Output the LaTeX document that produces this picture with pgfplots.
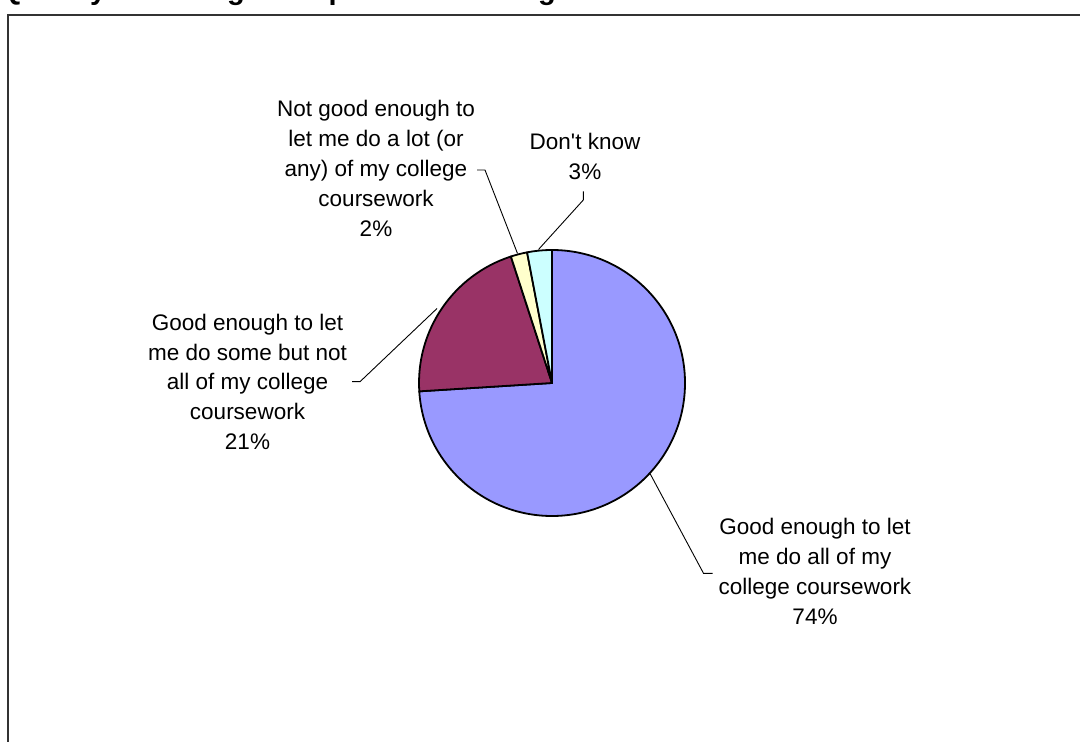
\documentclass[border=0pt]{standalone}
\usepackage{fontspec}
\setmainfont{Liberation Sans}
\usepackage{pgfplots}
\usepackage{pgfplotstable}
\pgfplotsset{compat=1.18}
\definecolor{pieblue}{HTML}{9999FF}
\definecolor{piemaroon}{HTML}{993366}
\definecolor{pieyellow}{HTML}{FFFFCC}
\definecolor{piecyan}{HTML}{CCFFFF}
\pgfplotstableread{
share label
74 all
21 some
2 notenough
3 dontknow
}\piedata
\begin{document}%
\begin{tikzpicture}
\pgfplotstablegetelem{0}{share}\of\piedata \pgfmathsetmacro\sA{\pgfplotsretval}
\pgfplotstablegetelem{1}{share}\of\piedata \pgfmathsetmacro\sB{\pgfplotsretval}
\pgfplotstablegetelem{2}{share}\of\piedata \pgfmathsetmacro\sC{\pgfplotsretval}
\pgfplotstablegetelem{3}{share}\of\piedata \pgfmathsetmacro\sD{\pgfplotsretval}
\pgfmathsetmacro\aA{90-3.6*\sA}
\pgfmathsetmacro\aB{\aA-3.6*\sB}
\pgfmathsetmacro\aC{\aB-3.6*\sC}
\pgfmathsetmacro\aD{\aC-3.6*\sD}
\begin{axis}[name=ax, scale only axis, width=540pt, height=371pt,
  xmin=0, xmax=1080, ymin=0, ymax=742, y dir=reverse,
  hide axis, clip=false]
% border of chart area (cropped)
\draw[line width=1pt, black!80] (axis cs:8,800) -- (axis cs:8,15) -- (axis cs:1100,15);
% title (cropped at top, only descenders visible)
\node[anchor=base west, inner sep=0pt, font=\bfseries\fontsize{14.5}{17}\selectfont] at (axis cs:0,-0.3) {Q1. Is your college computer fast enough?};
% pie slices
\filldraw[fill=pieblue, draw=black, line width=0.9pt, line join=round] (axis cs:552,383) -- ++(90:66.5pt) arc[start angle=90, end angle=\aA, radius=66.5pt] -- cycle;
\filldraw[fill=piemaroon, draw=black, line width=0.9pt, line join=round] (axis cs:552,383) -- ++(\aA:66.5pt) arc[start angle=\aA, end angle=\aB, radius=66.5pt] -- cycle;
\filldraw[fill=pieyellow, draw=black, line width=0.9pt, line join=round] (axis cs:552,383) -- ++(\aB:66.5pt) arc[start angle=\aB, end angle=\aC, radius=66.5pt] -- cycle;
\filldraw[fill=piecyan, draw=black, line width=0.9pt, line join=round] (axis cs:552,383) -- ++(\aC:66.5pt) arc[start angle=\aC, end angle=\aD, radius=66.5pt] -- cycle;
% leader lines
\draw[line width=0.45pt] (axis cs:477,170) -- (axis cs:485,170) -- (axis cs:517.5,253.5);
\draw[line width=0.45pt] (axis cs:583.3,191.5) -- (axis cs:583.3,200) -- (axis cs:538.5,249.5);
\draw[line width=0.45pt] (axis cs:352,381.7) -- (axis cs:360,381.7) -- (axis cs:437,308.5);
\draw[line width=0.45pt] (axis cs:650,473.5) -- (axis cs:703.5,573.3) -- (axis cs:712.7,573.3);
% labels
\tikzset{lbl/.style={anchor=base, inner sep=0pt, font=\fontsize{11.25}{15}\selectfont}}
\node[lbl] at (axis cs:376,116.5) {Not good enough to};
\node[lbl] at (axis cs:376,146.5) {let me do a lot (or};
\node[lbl] at (axis cs:376,176.5) {any) of my college};
\node[lbl] at (axis cs:376,206.5) {coursework};
\node[lbl] at (axis cs:376,236.5) {2\%};
\node[lbl] at (axis cs:585,149.3) {Don\textquotesingle t know};
\node[lbl] at (axis cs:585,179.3) {3\%};
\node[lbl] at (axis cs:247.5,330.7) {Good enough to let};
\node[lbl] at (axis cs:247.5,360.3) {me do some but not};
\node[lbl] at (axis cs:247.5,390) {all of my college};
\node[lbl] at (axis cs:247.5,419.7) {coursework};
\node[lbl] at (axis cs:247.5,449.3) {21\%};
\node[lbl] at (axis cs:815,534) {Good enough to let};
\node[lbl] at (axis cs:815,564) {me do all of my};
\node[lbl] at (axis cs:815,594) {college coursework};
\node[lbl] at (axis cs:815,624) {74\%};
\end{axis}
\pgfresetboundingbox
\path[use as bounding box] (ax.south west) rectangle (ax.north east);
\end{tikzpicture}%
\end{document}
